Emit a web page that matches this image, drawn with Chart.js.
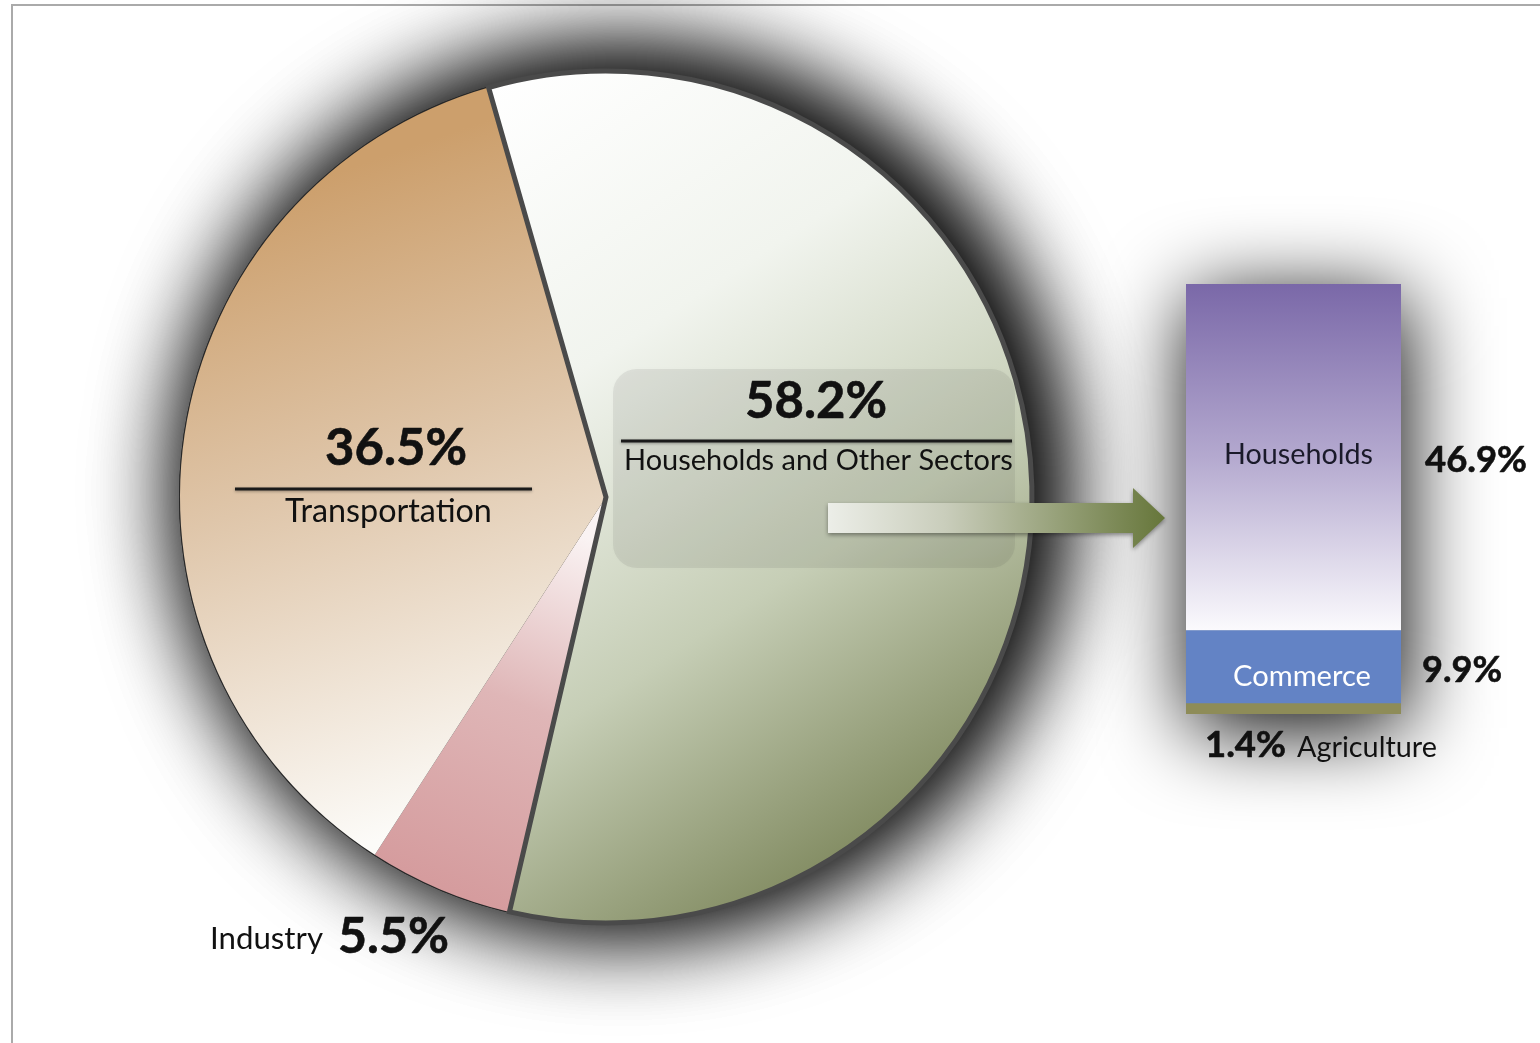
<!DOCTYPE html>
<html>
<head>
<meta charset="utf-8">
<script src="https://cdn.jsdelivr.net/npm/chart.js@4.4.0/dist/chart.umd.min.js"></script>
<style>
  html, body { margin: 0; padding: 0; background: #fff; }
  #wrap { position: relative; width: 1540px; height: 1043px; overflow: hidden; }
  #frame { position: absolute; left: 11px; top: 4px; width: 1540px; height: 1060px;
           border-top: 2px solid #aaa; border-left: 2px solid #aaa; }
  canvas { position: absolute; left: 0; top: 0; }
</style>
</head>
<body>
<div id="wrap">
  <div id="frame"></div>
  <canvas id="pieChart" width="1540" height="1043"></canvas>
  <canvas id="barChart" width="1540" height="1043"></canvas>
</div>
<script>
// Energy use by sector (%)
const sectors = ['Industry', 'Transportation', 'Households and Other Sectors'];
const sectorShares = [5.5, 36.5, 58.2];

// Split of "Households and Other Sectors", bottom to top
const subSectors = ['Agriculture', 'Commerce', 'Households'];
const subShares = [1.4, 9.9, 46.9];

const FONT = 'Lato, "Open Sans", sans-serif';

// draw text so it fills the span left..right
function fitText(ctx, text, left, right, baseline, weight, color) {
    ctx.font = weight + ' 100px ' + FONT;
    const w = ctx.measureText(text).width;
    const size = 100 * (right - left) / w;
    ctx.font = weight + ' ' + size.toFixed(2) + 'px ' + FONT;
    ctx.fillStyle = color;
    ctx.textAlign = 'left';
    ctx.textBaseline = 'alphabetic';
    ctx.fillText(text, left, baseline);
    if (weight === 'bold') {
        // Calibri bold is a little heavier than Lato bold
        ctx.strokeStyle = color;
        ctx.lineWidth = 0.6;
        ctx.lineJoin = 'round';
        ctx.strokeText(text, left, baseline);
    }
}

function hline(ctx, x1, x2, y) {
    ctx.save();
    ctx.strokeStyle = '#1a1a1a';
    ctx.lineWidth = 3;
    ctx.shadowColor = 'rgba(0,0,0,0.35)';
    ctx.shadowBlur = 3;
    ctx.shadowOffsetY = 1;
    ctx.beginPath();
    ctx.moveTo(x1, y);
    ctx.lineTo(x2, y);
    ctx.stroke();
    ctx.restore();
}

// slice fills
function sliceFill(context) {
    const chart = context.chart;
    const {ctx, chartArea} = chart;
    if (!chartArea) return '#ccc';
    const cx = (chartArea.left + chartArea.right) / 2;
    const cy = (chartArea.top + chartArea.bottom) / 2;
    let g;
    if (context.dataIndex === 2) {
        g = ctx.createLinearGradient(cx - 160, cy - 380, cx + 360, cy + 420);
        g.addColorStop(0, '#ffffff');
        g.addColorStop(0.3, '#f1f4ee');
        g.addColorStop(0.6, '#c6ceb6');
        g.addColorStop(1, '#66703f');
    } else if (context.dataIndex === 1) {
        g = ctx.createLinearGradient(cx - 400, cy - 280, cx - 190, cy + 330);
        g.addColorStop(0, '#cc9f6c');
        g.addColorStop(0.45, '#dfc6aa');
        g.addColorStop(1, '#fcfbf8');
    } else {
        g = ctx.createLinearGradient(cx - 170, cy + 410, cx - 20, cy + 40);
        g.addColorStop(0, '#d4999b');
        g.addColorStop(0.55, '#dfb6b7');
        g.addColorStop(1, '#faf3f3');
    }
    return g;
}

const pieDecor = {
    id: 'pieDecor',
    beforeDatasetsDraw(chart) {
        const arc = chart.getDatasetMeta(0).data[0];
        const ctx = chart.ctx;
        ctx.save();
        ctx.shadowColor = 'rgba(0,0,0,1)';
        ctx.shadowBlur = 100;
        ctx.shadowOffsetX = 15;
        ctx.shadowOffsetY = -6;
        ctx.fillStyle = '#2a2a2a';
        ctx.beginPath();
        ctx.arc(arc.x, arc.y, arc.outerRadius + 1, 0, Math.PI * 2);
        ctx.fill();
        ctx.fill();
        ctx.restore();
    },
    afterDatasetsDraw(chart) {
        const ctx = chart.ctx;
        // grey label panel on the big slice
        ctx.save();
        ctx.fillStyle = 'rgba(70,70,70,0.10)';
        ctx.shadowColor = 'rgba(70,70,70,0.10)';
        ctx.shadowBlur = 8;
        ctx.beginPath();
        ctx.roundRect(613, 369, 402, 199, 24);
        ctx.fill();
        ctx.restore();

        fitText(ctx, sectorShares[2].toFixed(1) + '%', 745, 887, 418, 'bold', '#111');
        hline(ctx, 621, 1012, 441);
        fitText(ctx, sectors[2], 624, 1013, 470, 'normal', '#111');

        fitText(ctx, sectorShares[1].toFixed(1) + '%', 325, 467, 465, 'bold', '#111');
        hline(ctx, 235, 532, 489);
        fitText(ctx, sectors[1], 285, 492, 522, 'normal', '#111');

        fitText(ctx, sectors[0], 210, 323, 949, 'normal', '#111');
        fitText(ctx, sectorShares[0].toFixed(1) + '%', 338, 449, 953, 'bold', '#111');
    }
};

const sum = sectorShares.reduce((a, b) => a + b, 0);
const startAngle = -16; // where the big slice begins

new Chart(document.getElementById('pieChart'), {
    type: 'pie',
    data: {
        labels: sectors,
        datasets: [{
            data: sectorShares,
            backgroundColor: sliceFill,
            borderColor: '#4a4a4a',
            borderWidth: [0, 0, 5],
            borderJoinStyle: 'miter'
        }]
    },
    options: {
        responsive: false,
        animation: false,
        rotation: startAngle + sectorShares[2] / sum * 360,
        radius: 426,
        layout: { padding: { left: 0, top: 0, right: 1540 - 1212, bottom: 1043 - 994 } },
        plugins: { legend: { display: false }, tooltip: { enabled: false } }
    },
    plugins: [pieDecor]
});

// bar part
const subColors = ['#8e8c58', '#6383c5', null];

function barFill(context) {
    if (context.datasetIndex !== 2) return subColors[context.datasetIndex];
    const chart = context.chart;
    const {ctx, chartArea, scales} = chart;
    if (!chartArea) return '#a898c4';
    const y0 = scales.y.getPixelForValue(scales.y.max);
    const y1 = scales.y.getPixelForValue(subShares[0] + subShares[1]);
    const g = ctx.createLinearGradient(0, y0, 0, y1);
    g.addColorStop(0, '#7a68a8');
    g.addColorStop(0.5, '#b4a9cf');
    g.addColorStop(1, '#fbfafd');
    return g;
}

const barDecor = {
    id: 'barDecor',
    beforeDatasetsDraw(chart) {
        const ctx = chart.ctx;
        const a = chart.chartArea;
        ctx.save();
        ctx.shadowColor = 'rgba(0,0,0,1)';
        ctx.shadowBlur = 85;
        ctx.shadowOffsetX = 4;
        ctx.shadowOffsetY = 14;
        ctx.fillStyle = '#888';
        ctx.fillRect(a.left, a.top, a.right - a.left, a.bottom - a.top);
        ctx.restore();

        // arrow from the big slice to the bar
        const tipX = a.left - 21;
        const midY = 518;
        ctx.save();
        const g = ctx.createLinearGradient(828, 0, tipX, 0);
        g.addColorStop(0, '#eceee8');
        g.addColorStop(0.35, '#c9cdbb');
        g.addColorStop(1, '#66763a');
        ctx.fillStyle = g;
        ctx.shadowColor = 'rgba(0,0,0,0.4)';
        ctx.shadowBlur = 4;
        ctx.shadowOffsetY = 2;
        ctx.beginPath();
        ctx.moveTo(828, midY - 15);
        ctx.lineTo(tipX - 32, midY - 15);
        ctx.lineTo(tipX - 32, midY - 30);
        ctx.lineTo(tipX, midY);
        ctx.lineTo(tipX - 32, midY + 30);
        ctx.lineTo(tipX - 32, midY + 15);
        ctx.lineTo(828, midY + 15);
        ctx.closePath();
        ctx.fill();
        ctx.restore();
    },
    afterDatasetsDraw(chart) {
        const ctx = chart.ctx;
        fitText(ctx, subSectors[2], 1224, 1373, 464, 'normal', '#1a1a2a');
        fitText(ctx, subShares[2].toFixed(1) + '%', 1425, 1527, 472, 'bold', '#111');
        fitText(ctx, subSectors[1], 1233, 1371, 686, 'normal', '#ffffff');
        fitText(ctx, subShares[1].toFixed(1) + '%', 1422, 1502, 682, 'bold', '#111');
        fitText(ctx, subShares[0].toFixed(1) + '%', 1205, 1286, 757, 'bold', '#111');
        fitText(ctx, subSectors[0], 1297, 1437, 757, 'normal', '#111');
    }
};

new Chart(document.getElementById('barChart'), {
    type: 'bar',
    data: {
        labels: ['Households and Other Sectors'],
        datasets: subSectors.map((name, i) => ({
            label: name,
            data: [subShares[i]],
            backgroundColor: barFill,
            borderWidth: 0,
            barPercentage: 1,
            categoryPercentage: 1
        }))
    },
    options: {
        responsive: false,
        animation: false,
        layout: { padding: { left: 1186, right: 1540 - 1401, top: 284, bottom: 1043 - 714 } },
        scales: {
            x: { display: false, stacked: true },
            y: { display: false, stacked: true, min: 0, max: subShares.reduce((a, b) => a + b, 0) }
        },
        plugins: { legend: { display: false }, tooltip: { enabled: false } }
    },
    plugins: [barDecor]
});
</script>
</body>
</html>
